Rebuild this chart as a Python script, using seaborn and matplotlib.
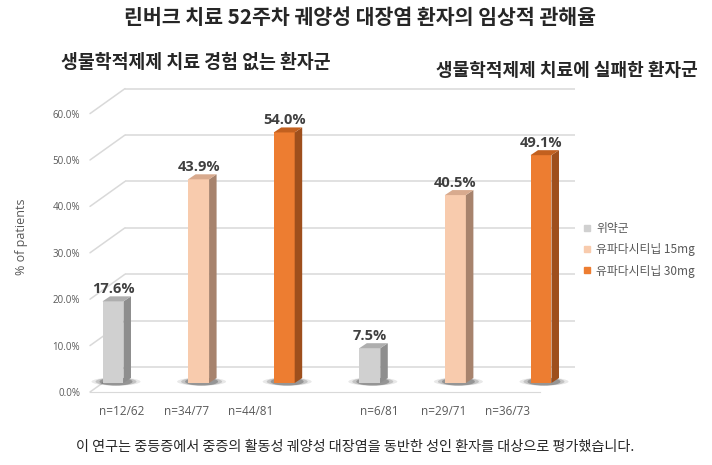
import matplotlib
matplotlib.use('Agg')
import matplotlib.pyplot as plt
from matplotlib.lines import Line2D
from matplotlib.patches import Polygon, Ellipse
import seaborn as sns
import pandas as pd
import numpy as np

# ---- data ----
chart_title = '린버크 치료 52주차 궤양성 대장염 환자의 임상적 관해율'
group_titles = ['생물학적제제 치료 경험 없는 환자군', '생물학적제제 치료에 실패한 환자군']
arms = ['위약군', '유파다시티닙 15mg', '유파다시티닙 30mg']
naive_rates = [17.6, 43.9, 54.0]
failed_rates = [7.5, 40.5, 49.1]
n_labels = ['n=12/62', 'n=34/77', 'n=44/81', '', 'n=6/81', 'n=29/71', 'n=36/73']
y_ticks = [0, 10, 20, 30, 40, 50, 60]
footnote = '이 연구는 중등증에서 중증의 활동성 궤양성 대장염을 동반한 성인 환자를 대상으로 평가했습니다.'

front_colors = ['#D0D0D0', '#F8CBAD', '#ED7D31']
side_colors = ['#8E8E8E', '#A7836D', '#9E4F1C']
top_colors = ['#AEAEAE', '#D8AA8E', '#C2601F']
text_gray = '#595959'
grid_gray = '#D9D9D9'

sns.set_style('white')
plt.rcParams['font.family'] = ['Noto Sans CJK KR', 'DejaVu Sans']
latin = ['Open Sans', 'DejaVu Sans']

W, H = 712, 465
fig = plt.figure(figsize=(W / 100, H / 100), dpi=100)
fig.patch.set_facecolor('white')

PX_Y = 4.64      # pixels per percentage point
YMAX = 65


def px_axes(left, zero_y, width, zorder):
    # axes placed in pixel terms: left edge, pixel row of y=0, width
    a = fig.add_axes([left / W, (H - zero_y) / H, width / W, YMAX * PX_Y / H])
    a.set_ylim(0, YMAX)
    a.patch.set_alpha(0)
    a.set_zorder(zorder)
    for s in a.spines.values():
        s.set_visible(False)
    return a


# back wall with gridlines
wall = px_axes(125, 367, 450, 0)
wall.set_xlim(-0.5, 6.5)
wall.hlines(y_ticks, -0.5, 6.5, color=grid_gray, lw=1.1, clip_on=False)
wall.set_xticks([])
wall.set_yticks([])

# front plane: y tick labels + floor edge with n labels
front = px_axes(90, 392, 450, 1)
front.set_xlim(-0.5, 6.5)
front.set_yticks(y_ticks)
front.set_yticklabels([f'{v:.1f}%' for v in y_ticks], family=latin, fontsize=7, color=text_gray)
front.tick_params(axis='y', length=0, pad=7)
front.set_xticks(range(len(n_labels)))
front.set_xticklabels(n_labels, family=latin, fontsize=8.5, color=text_gray)
front.set_xticks(np.arange(-0.5, len(n_labels)), minor=True)
front.tick_params(axis='x', which='major', length=0, pad=9.5)
front.tick_params(axis='x', which='minor', length=4, color=grid_gray, width=1, direction='out')
front.spines['bottom'].set_visible(True)
front.spines['bottom'].set_color(grid_gray)

# side wall diagonals joining front labels to back gridlines
inv = fig.transFigure.inverted()
for v in y_ticks:
    p0 = inv.transform(front.transData.transform((-0.5, v)))
    p1 = inv.transform(wall.transData.transform((-0.5, v)))
    fig.add_artist(Line2D([p0[0], p1[0]], [p0[1], p1[1]], color=grid_gray, lw=1.1, zorder=0))

# bars
df = pd.DataFrame({
    'key': [f'{g}|{a}' for g in range(2) for a in arms],
    'arm': arms * 2,
    'rate': naive_rates + failed_rates,
})
ax = px_axes(70.2, 383, 513.6, 2)
sns.barplot(data=df, x='key', y='rate', hue='arm', hue_order=arms, palette=front_colors,
            dodge=False, width=0.245, saturation=1, legend=False, ax=ax, zorder=3)
ax.set_xlim(-0.5, len(df) - 0.5)
ax.set_ylim(0, YMAX)
ax.set_xticks([])
ax.set_yticks([])
ax.set_xlabel('')
ax.set_ylabel('')

px_x = 513.6 / len(df)
dx, dy = 7.5 / px_x, 5 / PX_Y
for p in list(ax.patches):
    x0, w, h = p.get_x(), p.get_width(), p.get_height()
    i = int(round(x0 + w / 2))
    k = arms.index(df['arm'][i])
    p.set_edgecolor('none')
    # soft floor shadow
    for sw, a in [(28, 0.10), (20, 0.18), (12, 0.28)]:
        ax.add_patch(Ellipse((x0 + w / 2 + 3 / px_x, 0.3), (w * px_x + sw) / px_x, 8 / PX_Y,
                             color='#202020', alpha=a, lw=0, zorder=1, clip_on=False))
    ax.add_patch(Polygon([(x0 + w, 0), (x0 + w + dx, dy), (x0 + w + dx, h + dy), (x0 + w, h)],
                         closed=True, fc=side_colors[k], ec='none', zorder=3))
    ax.add_patch(Polygon([(x0, h), (x0 + dx, h + dy), (x0 + w + dx, h + dy), (x0 + w, h)],
                         closed=True, fc=top_colors[k], ec='none', zorder=3))
    ax.annotate(f'{h:.1f}%', (x0 + w / 2, h), xytext=(0, 6), textcoords='offset points',
                ha='center', va='baseline', fontsize=10.5, fontweight='bold',
                color='#404040', family=latin)

# legend
handles = [Line2D([], [], ls='none', marker='s', markersize=5, color=c) for c in front_colors]
fig.legend(handles, arms, loc='upper left', bbox_to_anchor=(583 / W, 1 - 222 / H),
           frameon=False, fontsize=8.5, labelcolor=text_gray, handlelength=0.7,
           handletextpad=0.4, labelspacing=0.7, borderpad=0, borderaxespad=0)

# texts
fig.text(22 / W, 1 - 237 / H, '% of patients', rotation=90, ha='center', va='center',
         fontsize=9, color=text_gray, family=latin)
fig.text(360 / W, 1 - 18 / H, chart_title, ha='center', va='center', fontsize=14.8, fontweight='bold')
fig.text(196 / W, 1 - 62 / H, group_titles[0], ha='center', va='center', fontsize=13.2, fontweight='bold')
fig.text(567 / W, 1 - 70 / H, group_titles[1], ha='center', va='center', fontsize=13, fontweight='bold')
fig.text(355 / W, 1 - 447 / H, footnote, ha='center', va='center', fontsize=10.2)

plt.savefig('out.png', dpi=100)
